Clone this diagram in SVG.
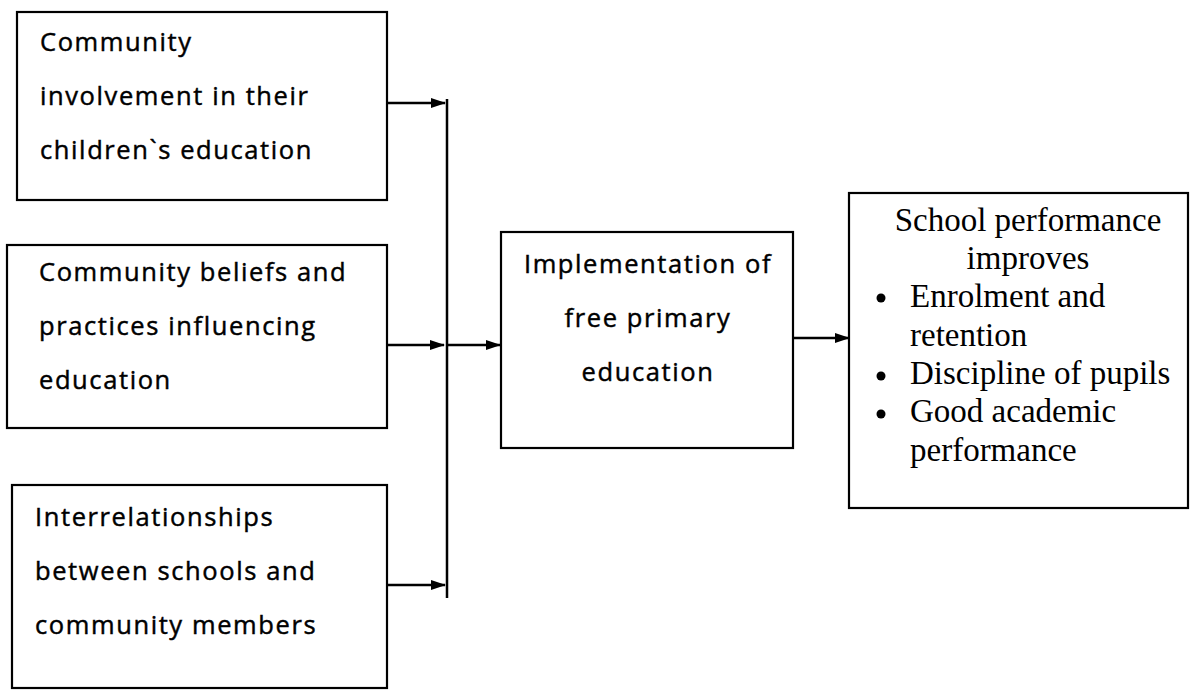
<svg xmlns="http://www.w3.org/2000/svg" width="1192" height="693" viewBox="0 0 1192 693">
<style>
.box{fill:#fff;stroke:#000;stroke-width:2.2}
.sans{font-family:"Open Sans","Liberation Sans",sans-serif;font-size:25.5px;fill:#000;stroke:#000;stroke-width:0.45;letter-spacing:1.6px}
.serif{font-family:"Liberation Serif","Times New Roman",serif;font-size:33px;fill:#000}
.ln{stroke:#000;stroke-width:2.5;fill:none}
</style>
<defs>
<marker id="ah" markerWidth="15" markerHeight="10" refX="14" refY="5" orient="auto" markerUnits="userSpaceOnUse">
<path d="M0,0 L15,5 L0,10 Z" fill="#000"/>
</marker>
</defs>
<rect width="1192" height="693" fill="#fff"/>
<g id="connectors">
<line class="ln" x1="387" y1="103" x2="445" y2="103" marker-end="url(#ah)"/>
<line class="ln" x1="447" y1="99" x2="447" y2="598"/>
<line class="ln" x1="387" y1="345" x2="444" y2="345" marker-end="url(#ah)"/>
<line class="ln" x1="447" y1="345" x2="500" y2="345" marker-end="url(#ah)"/>
<line class="ln" x1="387" y1="585" x2="445" y2="585" marker-end="url(#ah)"/>
<line class="ln" x1="793" y1="338" x2="849" y2="338" marker-end="url(#ah)"/>
</g>
<g id="node1">
<rect class="box" x="17" y="12" width="370" height="188"/>
<text class="sans" x="40" y="51">Community</text>
<text class="sans" x="40" y="105">involvement in their</text>
<text class="sans" x="40" y="159">children`s education</text>
</g>
<g id="node2">
<rect class="box" x="7" y="245" width="380" height="183"/>
<text class="sans" x="39" y="281">Community beliefs and</text>
<text class="sans" x="39" y="335">practices influencing</text>
<text class="sans" x="39" y="389">education</text>
</g>
<g id="node3">
<rect class="box" x="12" y="485" width="375" height="203"/>
<text class="sans" x="35" y="526">Interrelationships</text>
<text class="sans" x="35" y="580">between schools and</text>
<text class="sans" x="35" y="634">community members</text>
</g>
<g id="node4">
<rect class="box" x="501" y="232" width="292" height="216"/>
<text class="sans" x="648" y="273" text-anchor="middle">Implementation of</text>
<text class="sans" x="648" y="327" text-anchor="middle">free primary</text>
<text class="sans" x="648" y="381" text-anchor="middle">education</text>
</g>
<g id="node5">
<rect class="box" x="849" y="193" width="339" height="315"/>
<text class="serif" x="1028" y="231" text-anchor="middle">School performance</text>
<text class="serif" x="1028" y="269" text-anchor="middle">improves</text>
<circle cx="881" cy="298" r="4.5"/>
<text class="serif" x="910" y="307">Enrolment and</text>
<text class="serif" x="910" y="346">retention</text>
<circle cx="881" cy="376" r="4.5"/>
<text class="serif" x="910" y="384">Discipline of pupils</text>
<circle cx="881" cy="414" r="4.5"/>
<text class="serif" x="910" y="422">Good academic</text>
<text class="serif" x="910" y="461">performance</text>
</g>
</svg>
